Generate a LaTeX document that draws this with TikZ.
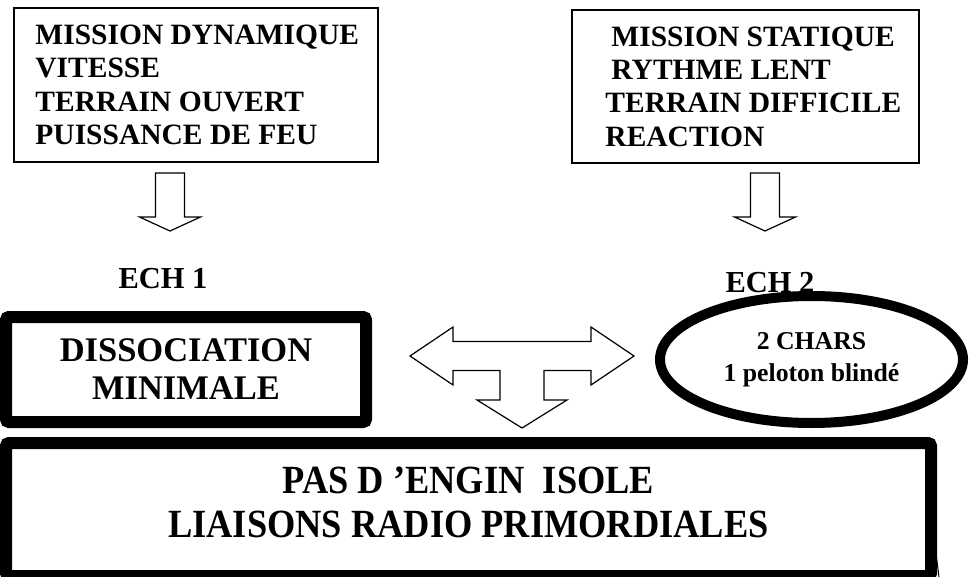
\documentclass[tikz,border=0pt]{standalone}
\usepackage{fontspec}
\setmainfont{Liberation Serif}[BoldFont={Liberation Serif Bold}]
\usetikzlibrary{shapes.geometric, positioning}

\newcommand{\serre}[1]{\scalebox{0.91}[1]{#1}}

\begin{document}
\begin{tikzpicture}[
    x=1pt, y=-1pt,
    cadre/.style={
        rectangle,
        draw,
        line width=1.5pt,
        inner sep=0pt
    },
    liste/.style={
        align=left,
        inner sep=0pt,
        font=\bfseries\fontsize{29.5}{33.3}\selectfont
    },
    epais/.style={
        rectangle,
        draw,
        line width=12pt,
        rounded corners=3pt,
        inner sep=0pt,
        align=center
    },
    echelon/.style={
        anchor=base,
        inner sep=0pt,
        font=\bfseries\fontsize{30.5}{33}\selectfont
    },
    fleche/.style={draw, line width=1.2pt, line join=miter},
    flechebas/.pic={
        \draw[fleche] (-14.5,0) -- (14.5,0) -- (14.5,44) -- (30.5,44)
            -- (0,58) -- (-30.5,44) -- (-14.5,44) -- cycle;
    }
]
\useasboundingbox (0,0) rectangle (971,577);

% les deux missions
\node[cadre, minimum width=364pt, minimum height=154pt] (dynamique) at (196,85) {};
\node[liste, anchor=west] (txtdyn) at ([xshift=22pt]dynamique.west)
    {MISSION DYNAMIQUE\\VITESSE\\TERRAIN OUVERT\\PUISSANCE DE FEU};

\node[cadre, minimum width=347pt, minimum height=153pt] (statique) at (745.5,86.5) {};
\node[liste, anchor=west] (txtstat) at ([xshift=34pt]statique.west)
    {\hspace*{6pt}MISSION STATIQUE\\\hspace*{6pt}RYTHME LENT\\TERRAIN DIFFICILE\\REACTION};

\pic at (170,173) {flechebas};
\pic at (765,173) {flechebas};

\node[echelon] (ech1) at (163,288) {ECH 1};
\node[echelon] (ech2) at (770,292) {ECH 2};

% echelons
\node[epais, minimum width=360pt, minimum height=105pt,
      font=\bfseries\fontsize{34.5}{38}\selectfont] (dissoc) at (186,369.5)
    {DISSOCIATION\\MINIMALE};

\node[ellipse, draw, line width=10pt, minimum width=303pt, minimum height=127pt,
      align=center, font=\bfseries\fontsize{25.7}{32}\selectfont] (chars) at (811.5,359.5)
    {2 CHARS\\1 peloton blindé};

\draw[fleche] (410,356) -- (453,327) -- (453,341.5) -- (591,341.5) -- (591,327)
    -- (634,356) -- (591,385) -- (591,370.5) -- (544,370.5) -- (544,400)
    -- (567,400) -- (522,428) -- (477,400) -- (500,400) -- (500,370.5)
    -- (453,370.5) -- (453,385) -- cycle;

% consigne
\node[epais, minimum width=925pt, minimum height=133pt] (consigne) at (468.5,509.5) {};
\node[align=center, inner sep=0pt, font=\bfseries\fontsize{40}{44}\selectfont]
    (txtconsigne) at ([yshift=7pt]consigne.center)
    {\serre{PAS D ’ENGIN~ ISOLE}\\\serre{LIAISONS RADIO PRIMORDIALES}};
\draw[line width=1pt] (935.5,550) -- (939,577);

\end{tikzpicture}
\end{document}
